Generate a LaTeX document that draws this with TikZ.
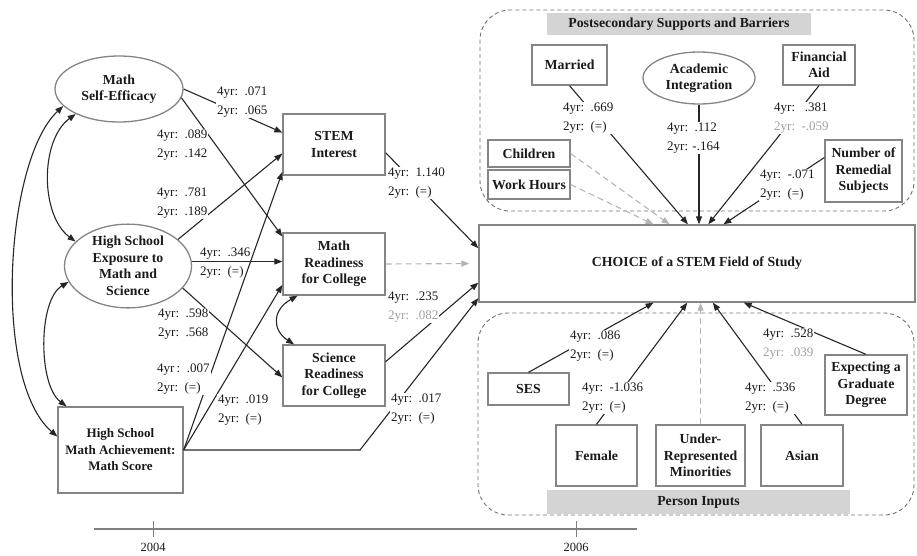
\documentclass[tikz,border=0pt]{standalone}
\usepackage{fontspec}
\setmainfont{Liberation Serif}
\usetikzlibrary{arrows.meta,shapes.geometric}
\definecolor{boxgray}{HTML}{858585}
\definecolor{arrowgray}{HTML}{262626}
\definecolor{dashgray}{HTML}{B4B4B4}
\definecolor{valgray}{HTML}{A0A0A0}
\definecolor{headgray}{HTML}{D4D4D4}
\definecolor{regiongray}{HTML}{707070}
\definecolor{txt}{HTML}{1A1A1A}
\newcommand{\grayval}[1]{\textcolor{valgray}{#1}}
\begin{document}
\begin{tikzpicture}[x=1pt,y=-1pt,
  box/.style={draw=boxgray, line width=1.3pt, fill=white, text=txt,
    font=\bfseries\fontsize{13.8}{16.5}\selectfont, align=center, inner sep=0pt},
  oval/.style={box, ellipse},
  lab/.style={font=\fontsize{13}{19.5}\selectfont, text=txt, align=left,
    inner sep=1pt, fill=white, anchor=west},
  labn/.style={lab, fill=none},
  arr/.style={draw=arrowgray, line width=1.1pt, -{Triangle[length=8pt,width=6pt]}},
  darr/.style={draw=dashgray, line width=1.1pt, dash pattern=on 6pt off 4pt,
    -{Triangle[length=8pt,width=6pt,fill=dashgray]}},
  barr/.style={draw=arrowgray, line width=1.1pt,
    {Triangle[length=8pt,width=6pt]}-{Triangle[length=8pt,width=6pt]}},
  region/.style={draw=regiongray, line width=0.9pt, dash pattern=on 4pt off 3pt,
    rounded corners=30pt},
  header/.style={fill=headgray, text=txt, font=\bfseries\fontsize{13.8}{16}\selectfont,
    inner sep=0pt},
  yearlab/.style={font=\fontsize{12.5}{14}\selectfont, text=txt}
]
\useasboundingbox (0,0) rectangle (917,555);

% grouping regions
\draw[region] (480,10) rectangle (914,211);
\draw[region] (478,313) rectangle (914,515);
\node[header, minimum width=264pt, minimum height=22pt] (hdtop) at (679,24) {Postsecondary Supports and Barriers};
\node[header, minimum width=303pt, minimum height=24pt] (hdbot) at (698.5,502) {Person Inputs};

% left block
\node[oval, minimum width=128pt, minimum height=66pt] (mse) at (119,89) {Math\\Self-Efficacy};
\node[oval, minimum width=127pt, minimum height=82pt] (hse) at (128,266) {High School\\Exposure to\\Math and\\Science};
\node[box, minimum width=125pt, minimum height=86pt, font=\bfseries\fontsize{13}{16.5}\selectfont] (hsa) at (120.5,450) {High School\\Math Achievement:\\Math Score};
\node[box, minimum width=102pt, minimum height=61pt] (stem) at (334,144.5) {STEM\\Interest};
\node[box, minimum width=102pt, minimum height=62pt] (mr) at (334,264) {Math\\Readiness\\for College};
\node[box, minimum width=102pt, minimum height=61pt] (sr) at (334,375.5) {Science\\Readiness\\for College};
\node[box, minimum width=436pt, minimum height=77pt] (choice) at (697,263.5) {CHOICE of a STEM Field of Study};

% postsecondary supports
\node[box, minimum width=75pt, minimum height=40pt] (married) at (569.5,65) {Married};
\node[oval, minimum width=112pt, minimum height=52pt] (acad) at (699,78) {Academic\\Integration};
\node[box, minimum width=72pt, minimum height=40pt] (fin) at (819,65) {Financial\\Aid};
\node[box, minimum width=82pt, minimum height=27pt] (children) at (529,153.5) {Children};
\node[box, minimum width=82pt, minimum height=29pt] (work) at (529,184.5) {Work Hours};
\node[box, minimum width=77pt, minimum height=62pt] (rem) at (863.5,171) {Number of\\Remedial\\Subjects};

% person inputs
\node[box, minimum width=81pt, minimum height=32pt] (ses) at (528.5,389) {SES};
\node[box, minimum width=81pt, minimum height=61pt] (female) at (596.5,455.5) {Female};
\node[box, minimum width=89pt, minimum height=61pt] (urm) at (700.5,455.5) {Under-\\Represented\\Minorities};
\node[box, minimum width=82pt, minimum height=61pt] (asian) at (802,455.5) {Asian};
\node[box, minimum width=82pt, minimum height=60pt] (expect) at (866,385) {Expecting a\\Graduate\\Degree};

% correlations
\draw[barr] (mse.197) .. controls (5,160) and (-8,380) .. (hsa.168);
\draw[barr] (mse.210) .. controls (40,140) and (40,215) .. (hse.155);
\draw[barr] (hse.195) .. controls (38,300) and (38,385) .. (hsa.141);
\draw[barr] (mr.221) .. controls (272,310) and (272,330) .. (sr.142);

% left paths
\coordinate (bx) at (360,0);
\draw[arr] (mse.east) -- (stem.167);
\draw[arr] (mse.352) -- (mr.152);
\draw[arr] (hse.28) -- (stem.190);
\draw[arr] (hse.4) -- (hse.4 -| mr.west);
\draw[arr] (hse.-22) -- (sr.182);
\draw[arr] (hsa.east) -- (stem.208);
\draw[arr] (hsa.east) -- (mr.202);
\draw[arr] (hsa.east) -- (hsa.east -| bx) -- (choice.189);
\draw[arr] (sr.15) -- (choice.185.6);
\draw[arr] (stem.-9.5) -- (choice.176);
\draw[darr, shorten >=9pt] (mr.east) -- (choice.west);

% top paths
\draw[arr] (married.south) -- (choice.103.2);
\draw[arr] (acad.south) -- (acad.south |- choice.north);
\draw[arr] (fin.south) -- (choice.74.1);
\draw[arr] (rem.161) -- (choice.56);
\draw[darr] (children.east) -- (choice.125);
\draw[darr] (work.east) -- (choice.138.8);

% bottom paths
\draw[arr] (ses.north) -- (choice.222.5);
\draw[arr] (female.north) -- (choice.256.8);
\draw[darr] (urm.north) -- (urm.north |- choice.south);
\draw[arr] (asian.north) -- (choice.292.6);
\draw[arr] (expect.north) -- (choice.320.1);

% coefficient labels
\node[lab] (l1) at (216,102) {4yr:\enspace.071\\2yr:\enspace.065};
\node[lab] (l2) at (156,145) {4yr:\enspace.089\\2yr:\enspace.142};
\node[lab] (l3) at (156,203) {4yr:\enspace.781\\2yr:\enspace.189};
\node[labn] (l4) at (199,263) {4yr:\enspace.346\\2yr:\enspace(=)};
\node[lab] (l5) at (157,324) {4yr:\enspace.598\\2yr:\enspace.568};
\node[lab] (l6) at (156,379) {4yr\,:\enspace.007\\2yr:\enspace(=)};
\node[lab] (l7) at (217,410) {4yr:\enspace.019\\2yr:\enspace(=)};
\node[lab] (l8) at (387,183) {4yr:\enspace1.140\\2yr:\enspace(=)};
\node[lab] (l9) at (387,307) {4yr:\enspace.235\\\grayval{2yr:\enspace.082}};
\node[lab] (l10) at (390,409) {4yr:\enspace.017\\2yr:\enspace(=)};
\node[lab] (l11) at (562,118) {4yr:\enspace.669\\2yr:\enspace(=)};
\node[lab] (l12) at (666,138) {4yr:\enspace.112\\2yr: -.164};
\node[lab] (l13) at (773,118) {4yr:\enspace\ .381\\\grayval{2yr:\enspace-.059}};
\node[lab] (l14) at (759,185) {4yr:\enspace-.071\\2yr:\enspace(=)};
\node[lab] (l15) at (569,346) {4yr:\enspace.086\\2yr:\enspace(=)};
\node[lab] (l16) at (581,398) {4yr:\enspace-1.036\\2yr:\enspace(=)};
\node[lab] (l17) at (744,398) {4yr:\enspace.536\\2yr:\enspace(=)};
\node[lab] (l18) at (762,344) {4yr:\enspace.528\\\grayval{2yr:\enspace.039}};

% timeline
\node[yearlab] (y2004) at (153,547) {2004};
\node[yearlab] (y2006) at (576,547) {2006};
\draw[draw=gray, line width=1.6pt] (94,529) -- (637,529);
\draw[draw=gray, line width=0.9pt] (y2004.north |- 0,521) -- (y2004.north |- 0,537);
\draw[draw=gray, line width=0.9pt] (y2006.north |- 0,521) -- (y2006.north |- 0,537);
\end{tikzpicture}
\end{document}
